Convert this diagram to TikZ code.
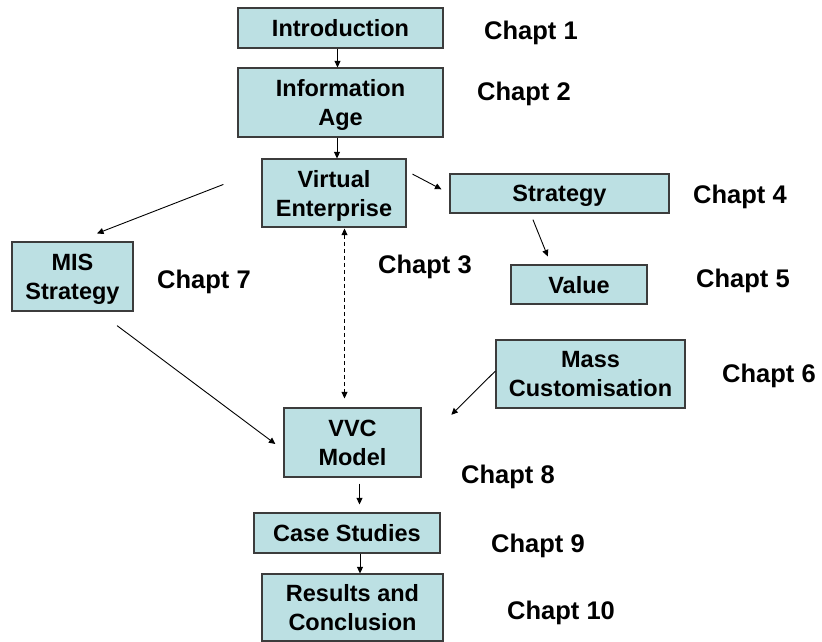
\documentclass[tikz,border=0pt]{standalone}
\usepackage{fontspec}
\setmainfont{Liberation Sans}
\usetikzlibrary{arrows.meta}
\definecolor{boxfill}{RGB}{188,224,227}
\definecolor{boxline}{RGB}{60,60,60}
\tikzset{
  box/.style={draw=boxline, line width=1.2pt, fill=boxfill, inner sep=0pt, align=center, text depth=0pt,
    font=\fontsize{23.5}{29}\selectfont\bfseries},
  chap/.style={anchor=base west, inner sep=0pt, font=\fontsize{25.5}{30}\selectfont\bfseries},
  arr/.style={line width=0.9pt, -{Triangle[length=6.5pt,width=6pt]}},
  darr/.style={line width=0.9pt, dashed, dash pattern=on 4pt off 3pt, {Triangle[length=6.5pt,width=6pt]}-{Triangle[length=6.5pt,width=6pt]}}
}
\begin{document}
\begin{tikzpicture}[x=1pt,y=-1pt]
\useasboundingbox (0,0) rectangle (822,642);
% boxes
\node[box, minimum width=205pt, minimum height=40pt] (intro) at (340.5,28) {Introduction};
\node[box, minimum width=205pt, minimum height=69pt] (info) at (340.5,102.5) {Information\\Age};
\node[box, minimum width=144pt, minimum height=68pt] (ve) at (334,193) {Virtual\\Enterprise};
\node[box, minimum width=219pt, minimum height=39pt] (strat) at (559.5,193.5) {Strategy};
\node[box, minimum width=136pt, minimum height=39pt] (value) at (579,284.5) {Value};
\node[box, minimum width=121pt, minimum height=69pt] (mis) at (72.5,276.5) {MIS\\Strategy};
\node[box, minimum width=189pt, minimum height=68pt] (mass) at (590.5,374) {Mass\\Customisation};
\node[box, minimum width=137pt, minimum height=69pt] (vvc) at (352.5,442.5) {VVC\\Model};
\node[box, minimum width=186pt, minimum height=40pt] (case) at (347,533) {Case Studies};
\node[box, minimum width=181pt, minimum height=67pt] (res) at (352.5,607.5) {Results and\\Conclusion};
% chapter labels
\node[chap] (c1) at (484,40) {Chapt 1};
\node[chap] (c2) at (477,100) {Chapt 2};
\node[chap] (c3) at (378,273) {Chapt 3};
\node[chap] (c4) at (693,203) {Chapt 4};
\node[chap] (c5) at (696,287) {Chapt 5};
\node[chap] (c6) at (722,382) {Chapt 6};
\node[chap] (c7) at (157,288) {Chapt 7};
\node[chap] (c8) at (461,483) {Chapt 8};
\node[chap] (c9) at (491,552) {Chapt 9};
\node[chap] (c10) at (507,619) {Chapt 10};
% connectors
\draw[arr] ([xshift=-3pt]intro.south) -- ([xshift=-3pt]info.north);
\draw[arr] ([xshift=-3.5pt]info.south) -- ([xshift=3pt]ve.north);
\draw[arr, shorten <=6.7pt, shorten >=9pt] ([yshift=22pt]ve.east) -- (strat.west);
\draw[arr, shorten <=6.5pt, shorten >=8.6pt] ([xshift=-29pt]strat.south) -- ([xshift=-28pt]value.north);
\draw[arr, shorten <=40.8pt, shorten >=22pt] ([yshift=23.3pt]ve.west) -- ([xshift=4pt]mis.north);
\draw[arr, shorten <=23.4pt, shorten >=10pt] ([xshift=25.8pt]mis.south) -- ([yshift=-7.5pt]vvc.west);
\draw[darr, shorten <=1pt, shorten >=9pt] ([xshift=10.5pt]ve.south) -- ([xshift=-8pt]vvc.north);
\draw[arr, shorten >=41.9pt] ([yshift=3pt]mass.west) -- ([yshift=-1.8pt]vvc.east);
\draw[arr, shorten <=6pt, shorten >=8pt] ([xshift=7pt]vvc.south) -- ([xshift=12.5pt]case.north);
\draw[arr] ([xshift=13pt]case.south) -- ([xshift=7.5pt]res.north);
\end{tikzpicture}
\end{document}
